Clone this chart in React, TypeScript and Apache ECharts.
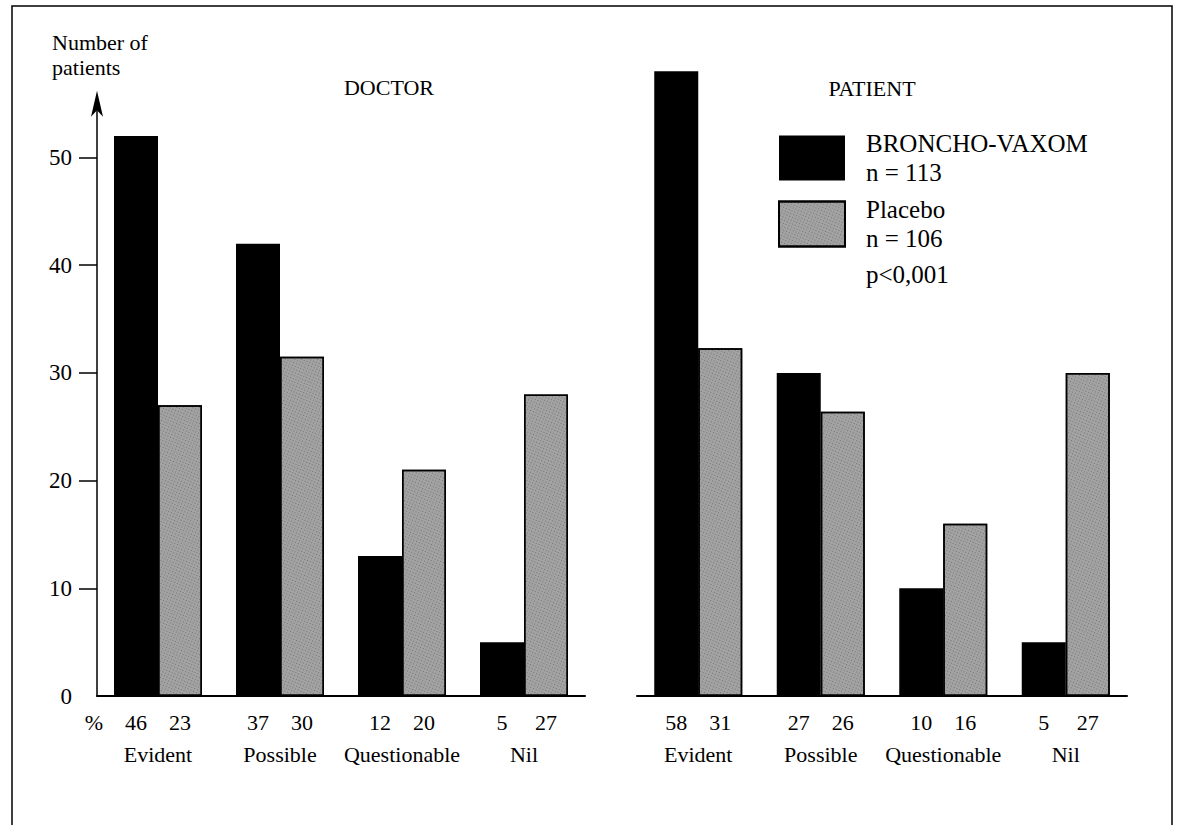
import React, { useEffect, useRef } from "react";
import * as echarts from "echarts";

// ---- data ----
const categories = ["Evident", "Possible", "Questionable", "Nil"];
const doctorBroncho = [52, 42, 13, 5];
const doctorPlacebo = [27, 31.5, 21, 28];
const patientBroncho = [58, 30, 10, 5];
const patientPlacebo = [32.3, 26.4, 16, 30];
const doctorPctBroncho = [46, 37, 12, 5];
const doctorPctPlacebo = [23, 30, 20, 27];
const patientPctBroncho = [58, 27, 10, 5];
const patientPctPlacebo = [31, 26, 16, 27];
const yTicks = [0, 10, 20, 30, 40, 50];
const yTickMarks = [10, 20, 30, 40, 50];
const seriesNames = ["BRONCHO-VAXOM", "Placebo"];
const groupSizes = ["n = 113", "n = 106"];
const panelTitles = ["DOCTOR", "PATIENT"];
const pValue = "p<0,001";
const yAxisTitle = "Number of\npatients";
const pctSign = "%";

// ---- layout ----
const FONT = '"Liberation Serif", "Times New Roman", Times, serif';
const BASE_Y = 696;
const UNIT = 10.77;
const H = 825;
const LEFT_MAX = 55;
const RIGHT_MAX = 60;

export default function App() {
  const ref = useRef<HTMLDivElement>(null);

  useEffect(() => {
    if (!ref.current) return;
    const chart = echarts.init(ref.current, undefined, { renderer: "svg" });

    const placeboStyle = {
      color: "#a2a2a2",
      borderColor: "#000",
      borderWidth: 1.5,
      decal: {
        symbol: "rect",
        symbolSize: 1,
        color: "rgba(30,30,30,0.35)",
        dashArrayX: [1, 2],
        dashArrayY: [1, 2],
        rotation: 0.4,
      },
    };
    const brochoStyle = { color: "#000" };

    const labelBase = {
      show: true,
      position: "bottom" as const,
      distance: 15,
      fontSize: 22,
      fontFamily: FONT,
      color: "#000",
    };

    const xAxisBase = {
      type: "category" as const,
      data: categories,
      axisLine: { lineStyle: { color: "#000", width: 2 } },
      axisTick: { show: false },
      axisLabel: { margin: 47, fontSize: 22, fontFamily: FONT, color: "#000", interval: 0 },
    };

    const mkSeries = (
      name: string,
      data: number[],
      pct: number[],
      idx: number,
      style: any
    ) => ({
      name,
      type: "bar" as const,
      xAxisIndex: idx,
      yAxisIndex: idx,
      data,
      barWidth: 44,
      barGap: "0%",
      itemStyle: style,
      label: { ...labelBase, formatter: (p: any) => String(pct[p.dataIndex]) },
    });

    chart.setOption({
      animation: false,
      backgroundColor: "#fff",
      textStyle: { fontFamily: FONT },
      grid: [
        { left: 97, width: 488, top: BASE_Y - LEFT_MAX * UNIT, height: LEFT_MAX * UNIT },
        { left: 637, width: 490, top: BASE_Y - RIGHT_MAX * UNIT, height: RIGHT_MAX * UNIT },
      ],
      xAxis: [
        { ...xAxisBase, gridIndex: 0 },
        { ...xAxisBase, gridIndex: 1 },
      ],
      yAxis: [
        {
          type: "value",
          gridIndex: 0,
          min: 0,
          max: LEFT_MAX,
          interval: 10,
          axisLine: {
            show: true,
            symbol: ["none", "arrow"],
            symbolSize: [9, 26],
            symbolOffset: [0, 13],
            lineStyle: { color: "#000", width: 1.5 },
          },
          axisTick: {
            show: true,
            length: 18,
            customValues: yTickMarks,
            lineStyle: { color: "#000", width: 1.5 },
          },
          axisLabel: {
            customValues: yTicks,
            margin: 25,
            fontSize: 23,
            fontFamily: FONT,
            color: "#000",
          },
          splitLine: { show: false },
        },
        {
          type: "value",
          gridIndex: 1,
          min: 0,
          max: RIGHT_MAX,
          show: false,
          splitLine: { show: false },
        },
      ],
      legend: {
        data: seriesNames,
        orient: "vertical",
        left: 778,
        top: 129,
        padding: 0,
        itemWidth: 66,
        itemHeight: 45,
        itemGap: 8,
        icon: "rect",
        selectedMode: false,
        formatter: (name: string) => name + "\n" + groupSizes[seriesNames.indexOf(name)],
        textStyle: {
          fontFamily: FONT,
          fontSize: 25,
          lineHeight: 29,
          color: "#000",
          padding: [0, 0, 0, 16],
        },
      },
      series: [
        mkSeries(seriesNames[0], doctorBroncho, doctorPctBroncho, 0, brochoStyle),
        mkSeries(seriesNames[1], doctorPlacebo, doctorPctPlacebo, 0, placeboStyle),
        mkSeries(seriesNames[0], patientBroncho, patientPctBroncho, 1, brochoStyle),
        mkSeries(seriesNames[1], patientPlacebo, patientPctPlacebo, 1, placeboStyle),
      ],
      graphic: [
        {
          type: "rect",
          shape: { x: 12, y: 6, width: 1160, height: H + 40 },
          style: { fill: "none", stroke: "#000", lineWidth: 1.5 },
          silent: true,
        },
        {
          type: "text",
          x: 52,
          y: 30,
          style: { text: yAxisTitle, fontSize: 22, lineHeight: 25, fontFamily: FONT, fill: "#000" },
        },
        {
          type: "text",
          x: 389,
          y: 87,
          style: {
            text: panelTitles[0],
            fontSize: 22,
            fontFamily: FONT,
            fill: "#000",
            textAlign: "center",
            textVerticalAlign: "middle",
          },
        },
        {
          type: "text",
          x: 872,
          y: 88,
          style: {
            text: panelTitles[1],
            fontSize: 22,
            fontFamily: FONT,
            fill: "#000",
            textAlign: "center",
            textVerticalAlign: "middle",
          },
        },
        {
          type: "text",
          x: 866,
          y: 274,
          style: {
            text: pValue,
            fontSize: 25,
            fontFamily: FONT,
            fill: "#000",
            textVerticalAlign: "middle",
          },
        },
        {
          type: "text",
          x: 94,
          y: 722,
          style: {
            text: pctSign,
            fontSize: 22,
            fontFamily: FONT,
            fill: "#000",
            textAlign: "center",
            textVerticalAlign: "middle",
          },
        },
      ],
    });

    return () => chart.dispose();
  }, []);

  return (
    <div
      ref={ref}
      style={{ position: "fixed", left: 0, top: 0, width: 1177, height: H, background: "#fff" }}
    />
  );
}
